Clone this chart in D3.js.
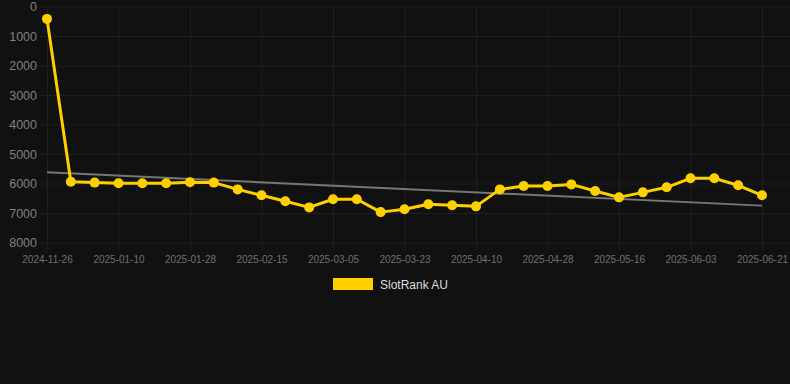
<!DOCTYPE html>
<html>
<head>
<meta charset="utf-8">
<script src="https://cdn.jsdelivr.net/npm/d3@7"></script>
<style>
html,body{margin:0;padding:0;background:#111111;}
svg{display:block;}
text{font-family:"Liberation Sans",Arial,sans-serif;}
</style>
</head>
<body>
<svg id="chart" width="790" height="384"></svg>
<script>
const dates = ["2024-11-26","2024-12-29","2025-01-04","2025-01-10","2025-01-16","2025-01-22","2025-01-28",
"2025-02-03","2025-02-09","2025-02-15","2025-02-21","2025-02-27","2025-03-05","2025-03-11","2025-03-17",
"2025-03-23","2025-03-29","2025-04-04","2025-04-10","2025-04-16","2025-04-22","2025-04-28","2025-05-04",
"2025-05-10","2025-05-16","2025-05-22","2025-05-28","2025-06-03","2025-06-09","2025-06-15","2025-06-21"];
const rankAU = [420,5940,5970,5990,5990,5990,5960,5970,6200,6400,6600,6810,6535,6535,6970,6875,6705,6740,6775,
6200,6085,6085,6030,6255,6470,6300,6130,5825,5825,6060,6400];
const trendEnds = [5620,6750];
const yTicks = [0,1000,2000,3000,4000,5000,6000,7000,8000];
const xTickLabels = ["2024-11-26","2025-01-10","2025-01-28","2025-02-15","2025-03-05","2025-03-23",
"2025-04-10","2025-04-28","2025-05-16","2025-06-03","2025-06-21"];
const seriesName = "SlotRank AU";

const svg = d3.select("#chart");
const mLeft = 47, mRight = 762, mTop = 6.5, mBottom = 242.5;
const x = d3.scalePoint().domain(dates).range([mLeft, mRight]);
const y = d3.scaleLinear().domain([0, 8000]).range([mTop, mBottom]);
const gridColor = "#1f1f1f";

// horizontal grid
const gy = svg.append("g").attr("class","y-axis")
  .attr("transform", `translate(${mLeft},0)`)
  .call(d3.axisLeft(y).tickValues(yTicks).tickSize(8).tickPadding(2).tickFormat(d3.format("d")));
gy.select(".domain").remove();
gy.selectAll(".tick line").attr("stroke", gridColor).attr("x1", -8).attr("x2", 790 - mLeft);
gy.selectAll(".tick text").attr("fill", "#808080").attr("font-size", "12.5px");

// vertical grid + x labels
const gx = svg.append("g").attr("class","x-axis")
  .attr("transform", `translate(0,${mBottom})`)
  .call(d3.axisBottom(x).tickValues(xTickLabels).tickSize(8).tickPadding(5));
gx.select(".domain").remove();
gx.selectAll(".tick line").attr("stroke", gridColor).attr("y1", mTop - mBottom).attr("y2", 8);
gx.selectAll(".tick text").attr("fill", "#707070").attr("font-size", "10px");

// trend line
svg.append("line")
  .attr("x1", x(dates[0])).attr("y1", y(trendEnds[0]))
  .attr("x2", x(dates[dates.length-1])).attr("y2", y(trendEnds[1]))
  .attr("stroke", "#777777").attr("stroke-width", 2);

// series line
const line = d3.line().x((d,i)=>x(dates[i])).y(d=>y(d));
svg.append("path").datum(rankAU)
  .attr("d", line).attr("fill","none").attr("stroke","#FFD000").attr("stroke-width",3)
  .attr("stroke-linejoin","round");

svg.append("g").selectAll("circle").data(rankAU).join("circle")
  .attr("cx",(d,i)=>x(dates[i])).attr("cy",d=>y(d)).attr("r",5).attr("fill","#FFD000");

// legend
const lg = svg.append("g");
lg.append("rect").attr("x",333).attr("y",278).attr("width",40).attr("height",12).attr("fill","#FFD000");
lg.append("text").attr("x",380).attr("y",288.5).attr("fill","#dddddd").attr("font-size","12px").text(seriesName);
</script>
</body>
</html>
